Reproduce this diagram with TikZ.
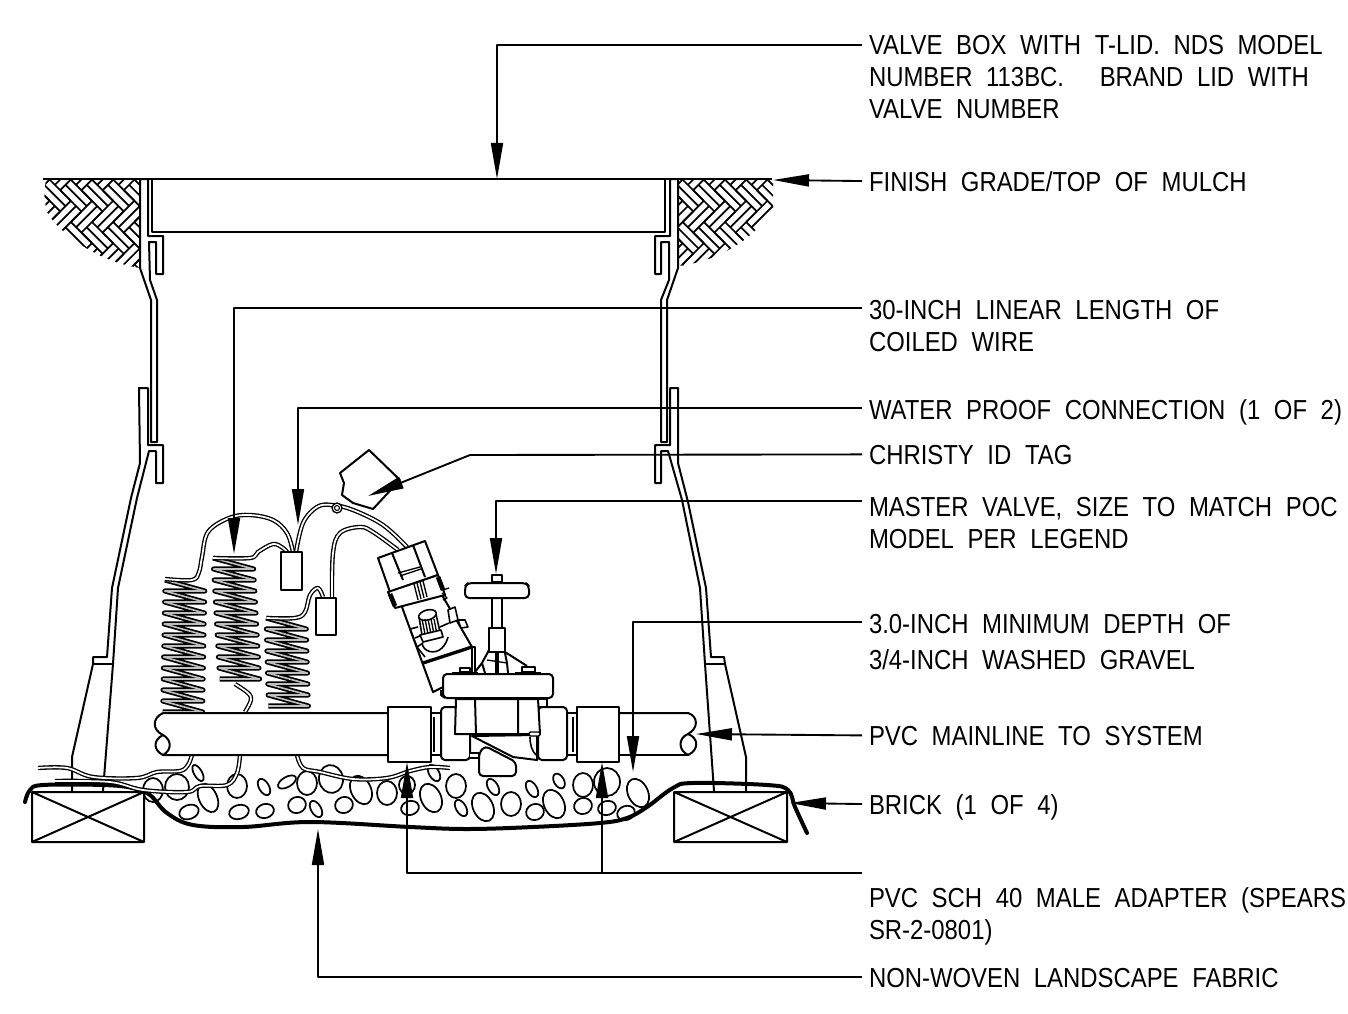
\documentclass[tikz,border=0pt]{standalone}
\usepackage{fontspec}
\setmainfont[FakeStretch=0.87,WordSpace=2.05]{Liberation Sans}
\usetikzlibrary{arrows.meta}

\begin{document}
\begin{tikzpicture}[x=0.75pt,y=-0.75pt,line width=1.5pt,line join=round,>={Triangle[length=27pt,width=9pt]}]
    \tikzstyle{notelabel}=[anchor=base west,align=left,inner xsep=4.5pt,inner ysep=0pt,text depth=0pt,font=\fontsize{20.6}{24}\selectfont]
    \tikzstyle{leader}=[->,line width=1.4pt]
    \tikzstyle{wire}=[line width=1pt,double=white,double distance=1.3pt]
    \tikzstyle{coilwire}=[line width=1.3pt,double=black!25,double distance=1.2pt]
    \tikzstyle{stone}=[line width=1.3pt]
    \tikzstyle{fabric}=[line width=3pt,line cap=round]
    \useasboundingbox (0,0) rectangle (1348,1013);

    % soil
    \begin{scope}
        \clip (140,180) -- (140,268) .. controls (100,262) and (60,235) .. (47,212) .. controls (44,200) and (44,190) .. (46,180) -- cycle
              (678,180) -- (678,266) .. controls (715,262) and (755,240) .. (773,208) -- (773,180) -- cycle;
        \foreach \cx in {92,725} {
            \begin{scope}[shift={(\cx,222)},rotate=45,line width=1.3pt]
                \foreach \i in {-7,...,7} \foreach \j in {-4,...,4} {
                    \pgfmathsetmacro{\bx}{(\i+2*\j)*15}
                    \pgfmathsetmacro{\by}{(\i-2*\j)*15}
                    \draw (\bx,\by) -- ++(30,0) (\bx,\by+7.5) -- ++(30,0) (\bx,\by+15) -- ++(30,0);
                    \draw (\bx,\by+15) -- ++(0,30) (\bx+7.5,\by+15) -- ++(0,30) (\bx+15,\by+15) -- ++(0,30);
                }
            \end{scope}
        }
    \end{scope}
    \draw[line width=1.8pt] (43,179) -- (772,179);

    % valve box
    \draw (152,179) rectangle (665,232);
    \draw (140,179) -- (140,268) -- (151,300) -- (151,442) -- (157,442) -- (157,300) -- (150,280) -- (149,242) -- (156,242) -- (156,274) -- (163,274) -- (163,236) -- (148,236) -- (148,179) -- cycle;
    \draw (678,179) -- (678,268) -- (667,300) -- (667,442) -- (661,442) -- (661,300) -- (669,280) -- (669,242) -- (661,242) -- (661,274) -- (655,274) -- (655,236) -- (670,236) -- (670,179) -- cycle;
    \draw (72,791) -- (72,757) -- (93,664) -- (93,657) -- (107,657) -- (112,588) -- (131,498) -- (140,463) -- (139,388) -- (148,388) -- (148,445) -- (163,445) -- (163,483) -- (156,483) -- (156,451) -- (149,451) -- (137,498) -- (118,588) -- (113,664) -- (103,791);
    \draw (93,664) -- (113,664);
    \draw (746,791) -- (746,757) -- (725,664) -- (724,657) -- (711,657) -- (706,588) -- (688,502) -- (678,463) -- (678,388) -- (670,388) -- (670,445) -- (655,445) -- (655,483) -- (661,483) -- (661,451) -- (668,451) -- (682,500) -- (700,588) -- (705,664) -- (714,791);
    \draw (705,664) -- (725,664);

    % gravel
    \foreach \sx/\sy/\rx/\ry/\tilt in {153/790/10/12/0,177/787/12/13/0,198/773/4/9/30,208/798/9/15/25,189/812/10/7/20,237/786/10/12/0,239/812/10/7/15,264/787/5/9/30,265/811/9/7/15,287/782/5/10/-60,307/783/10/12/0,331/779/12/14/10,297/805/9/8/20,316/809/5/9/30,344/805/9/8/20,361/790/10/15/25,387/793/10/12/0,410/808/9/7/15,407/785/8/9/0,434/773/5/9/30,431/798/10/15/25,456/786/10/12/0,461/808/5/9/30,493/787/5/9/30,483/807/10/15/25,511/804/10/12/0,532/789/5/9/30,535/812/9/8/20,554/804/10/15/25,559/781/5/8/30,583/785/10/12/0,583/806/9/8/15,607/782/13/14/0,607/808/9/7/15,638/793/10/15/25,626/813/9/7/20}
        \draw[stone] (\sx,\sy) ellipse [x radius=\rx,y radius=\ry,rotate=\tilt];

    % bricks
    \draw (32,792) rectangle (144,842) (32,792) -- (144,842) (32,842) -- (144,792);
    \draw (674,792) rectangle (787,842) (674,792) -- (787,842) (674,842) -- (787,792);
    \draw[fabric] plot[smooth,tension=0.6] coordinates {(25,802) (30,790) (43,785) (103,785) (133,788) (150,795) (167,813) (193,825) (243,827) (310,822) (410,827) (467,829) (533,827) (600,823) (627,818) (647,807) (673,788) (693,783) (767,785) (788,790) (795,807) (807,833)};

    % coils
    \foreach \lx/\ty/\n/\lean in {165/580/12/-0.2,213/558/11/0.6,266/618/8/0.3} {
        \draw[coilwire] (\lx,\ty) \foreach \k in {1,...,\n} { -- ({\lx+40+\k*\lean},{\ty+\k*11}) -- ({\lx+\k*\lean},{\ty+\k*11}) };
    }

    % wires
    \draw[wire] plot[smooth,tension=0.6] coordinates {(165,579) (192,580) (199,572) (202,557) (208,532) (229,518) (250,515) (273,520) (287,533) (293,552)};
    \draw[wire] plot[smooth,tension=0.6] coordinates {(213,558) (250,558) (258,552) (273,544) (283,548) (287,552)};
    \draw[wire] plot[smooth,tension=0.6] coordinates {(296,552) (303,523) (317,507) (332,505) (353,510) (383,525) (407,547)};
    \draw[wire] plot[smooth,tension=0.6] coordinates {(332,598) (333,553) (340,533) (360,527) (373,532) (398,550)};
    \draw[wire] plot[smooth,tension=0.6] coordinates {(267,618) (295,618) (305,612) (310,595) (318,588) (323,597)};
    \draw[wire] plot[smooth,tension=0.6] coordinates {(245,712) (251,700) (248,693) (235,684)};
    \draw[wire] plot[smooth,tension=0.6] coordinates {(38,768) (67,768) (93,777) (137,778) (157,772) (180,771) (188,765) (192,755)};
    \draw[wire] plot[smooth,tension=0.6] coordinates {(55,781) (110,782) (143,790) (187,792) (200,786) (227,785) (237,773) (240,755)};
    \draw[wire] plot[smooth,tension=0.6] coordinates {(297,755) (303,768) (320,772) (353,779) (387,778) (410,771) (430,767) (450,768)};

    % connectors and id tag
    \draw[fill=white] (281,552) rectangle (302,590);
    \draw[fill=white] (316,598) rectangle (336,635);
    \draw[fill=white] (369,450) -- (400,480) -- (373,509) -- (353,503) -- (342,495) -- (344,483) -- (340,473) -- cycle;
    \draw[line width=1pt,fill=white] (337,508) circle (5);
    \draw[line width=0.8pt] (337,508) circle (2.5);

    % mainline
    \draw[fill=white] (163,713) -- (388,713) -- (388,755) -- (163,755) .. controls (153,750) and (153,740) .. (163,735) .. controls (172,740) and (172,750) .. (163,755);
    \draw (163,735) .. controls (152,730) and (152,718) .. (163,713);
    \draw[fill=white] (619,713) -- (688,713) .. controls (698,716) and (699,728) .. (688,734) .. controls (678,738) and (678,750) .. (688,755) .. controls (699,750) and (699,738) .. (688,734);
    \draw[line width=1.8pt] (619,755) -- (688,755);
    \draw (431,713) -- (441,713) (431,755) -- (441,755) (433.5,717) -- (433.5,752);
    \draw (567,713) -- (577,713) (567,755) -- (577,755) (573,717) -- (573,752);
    \draw[fill=white] (388,707) rectangle (431,762);
    \draw[fill=white] (577,707) rectangle (619,762);

    % solenoid
    \fill[white] (402,607) -- (433,692) -- (443,687) -- (472,647) -- (442,595) -- cycle;
    \draw (402,607) -- (433,692) -- (443,687) (442,595) -- (472,647);
    \draw[fill=white] (378,558) -- (425,541) -- (438,575) -- (390,592) -- cycle;
    \draw[fill=white] (388,592) -- (438,575) -- (445,595) -- (395,608) -- cycle;
    \draw (392,553) -- (403,580) (413,545) -- (425,577);
    \draw[line width=1pt] (398,573) -- (420,567) (400,576) -- (421,569);
    \draw[line width=3.5pt] (390,594) -- (395,606) (438,577) -- (443,590);
    \draw[line width=1pt] (414,584) -- (418,600) (417,583) -- (421,599) (420,582) -- (424,598) (423,581) -- (427,597);
    \draw[line width=1pt] (443,590) -- (449,588) (442,593) -- (447,598) -- (443,600);
    \draw[line width=1.2pt,fill=white] (448,610) -- (455,607) -- (458,620) -- (450,623) -- cycle;
    \draw[line width=1.2pt,fill=white] (458,620) -- (465,620) -- (468,627) -- (461,628) -- cycle;
    \draw[line width=1.2pt] (410,629) -- (418,627) (410,629) -- (417,647) -- (425,657) (417,647) -- (423,643);
    \draw[line width=1.2pt] (449,623) -- (440,627) (422,635) -- (415,638);
    \draw[line width=1.2pt,fill=white] (419,617) -- (422,635) -- (440,632) -- (436,614) -- cycle;
    \draw[line width=1.2pt,fill=white] (427.5,615) ellipse [x radius=9,y radius=5,rotate=15];
    \foreach \hx in {0,3,6,9,12} \draw[line width=1pt] (422+\hx,619) -- (425+\hx,634);
    \draw[line width=1.2pt,fill=white] (420,635) -- (441,630) -- (443,637) -- (423,642) -- cycle;
    \draw[line width=1.2pt] (422,643) .. controls (423,652) and (435,655) .. (442,648) .. controls (445,645) and (447,641) .. (448,637);
    \draw[line width=2.5pt] (423,663) -- (472,647);
    \draw (472,647) -- (475,647) -- (475,672) (472,647) -- (472,672);

    % master valve
    \draw[fill=white] (492,575) rectangle (502,582);
    \draw[fill=white] (492,598) rectangle (502,628);
    \draw[fill=white,rounded corners=3] (465,598) -- (465,586) -- (468,583) -- (526,583) -- (529,586) -- (529,598) -- cycle;
    \draw[fill=white] (489,628) rectangle (505,652);
    \draw (489,650) -- (482,663) -- (485,673) (505,652) -- (527,666) (505,653) -- (507,663) -- (508,673) (482,663) -- (475,672);
    \draw[line width=1pt] (487,660) -- (507,663);
    \draw[line width=2.5pt] (497,651) -- (497,673);
    \draw[fill=white,line width=1pt] (460,668) rectangle (470,672) (522,667) rectangle (535,672);
    \draw (452,673) -- (478,673) (515,673) -- (541,673);
    \draw[fill=white,rounded corners=3] (443,674) rectangle (553,698);
    \draw (441,690) -- (441,695) -- (445,698);
    \draw[fill=white,rounded corners=3] (441,707) rectangle (470,760);
    \draw[fill=white,rounded corners=3] (538,707) rectangle (567,760);
    \draw[fill=white] (538,699) rectangle (547,707);
    \draw[fill=white] (456,699) -- (455,734) -- (540,734) -- (538,699) -- cycle;
    \draw (475,699) -- (476,734) (518,699) -- (518,734);
    \draw[fill=white] (472,736) -- (513,757) -- (537,760) -- (537,735) -- cycle;
    \draw[fill=white] (470,753) -- (479,753) -- (479,758) -- (470,758);
    \draw[fill=white,rounded corners=3] (479,753) -- (485,746) -- (516,762) -- (516,776) -- (479,776) -- cycle;
    \draw[fill=white,line width=1pt,rounded corners=1] (529,732) rectangle (540,736);
    \draw[line width=1.2pt] (530,737) .. controls (530,745) and (532,751) .. (536,755);

    % labels
    \node[notelabel] (lidlabel) at (862,119) {VALVE BOX WITH T-LID. NDS MODEL\\NUMBER 113BC.\hspace{1.3em}BRAND LID WITH\\VALVE NUMBER};
    \node[notelabel] (gradelabel) at (862,191) {FINISH GRADE/TOP OF MULCH};
    \node[notelabel] (coillabel) at (862,351) {30-INCH LINEAR LENGTH OF\\COILED WIRE};
    \node[notelabel] (prooflabel) at (862,419) {WATER PROOF CONNECTION (1 OF 2)};
    \node[notelabel] (taglabel) at (862,464) {CHRISTY ID TAG};
    \node[notelabel] (valvelabel) at (862,548) {MASTER VALVE, SIZE TO MATCH POC\\MODEL PER LEGEND};
    \node[notelabel] (gravellabel) at (862,669) {3.0-INCH MINIMUM DEPTH OF\\[3pt]3/4-INCH WASHED GRAVEL};
    \node[notelabel] (mainlabel) at (862,745) {PVC MAINLINE TO SYSTEM};
    \node[notelabel] (bricklabel) at (862,814) {BRICK (1 OF 4)};
    \node[notelabel] (adapterlabel) at (862,939) {PVC SCH 40 MALE ADAPTER (SPEARS\\SR-2-0801)};
    \node[notelabel] (fabriclabel) at (862,987) {NON-WOVEN LANDSCAPE FABRIC};

    % leaders
    \coordinate (lidtop) at (497,179);
    \coordinate (gradeend) at (773,180);
    \coordinate (coiltip) at (234,554);
    \coordinate (prooftip) at (298,525);
    \coordinate (tagbend) at (470,455);
    \coordinate (tagtip) at (368,496);
    \coordinate (valvetip) at (496,574);
    \coordinate (graveltip) at (633,772);
    \coordinate (maintip) at (696,734);
    \coordinate (bricktip) at (790,803);
    \coordinate (adapterleft) at (407,762);
    \coordinate (adapterright) at (602,762);
    \coordinate (adapterjoin) at (602,874);
    \coordinate (fabrictip) at (318,829);
    \draw[leader] ([yshift=-7.5pt]lidlabel.north west) -| (lidtop);
    \draw[leader] (gradelabel.west) -- (gradeend);
    \draw[leader] ([yshift=-7pt]coillabel.north west) -| (coiltip);
    \draw[leader] ([yshift=1pt]prooflabel.west) -| (prooftip);
    \draw[leader] (taglabel.west) -- (tagbend) -- (tagtip);
    \draw[leader] ([yshift=-3.75pt]valvelabel.north west) -| (valvetip);
    \draw[leader] ([yshift=-7pt]gravellabel.north west) -| (graveltip);
    \draw[leader] (mainlabel.west) -- (maintip);
    \draw[leader] (bricklabel.west) -- (bricktip);
    \draw[leader] ([yshift=9.75pt]adapterlabel.north west) -| (adapterleft);
    \draw[leader] (adapterjoin) -- (adapterright);
    \draw[leader] (fabriclabel.west) -| (fabrictip);
\end{tikzpicture}
\end{document}
